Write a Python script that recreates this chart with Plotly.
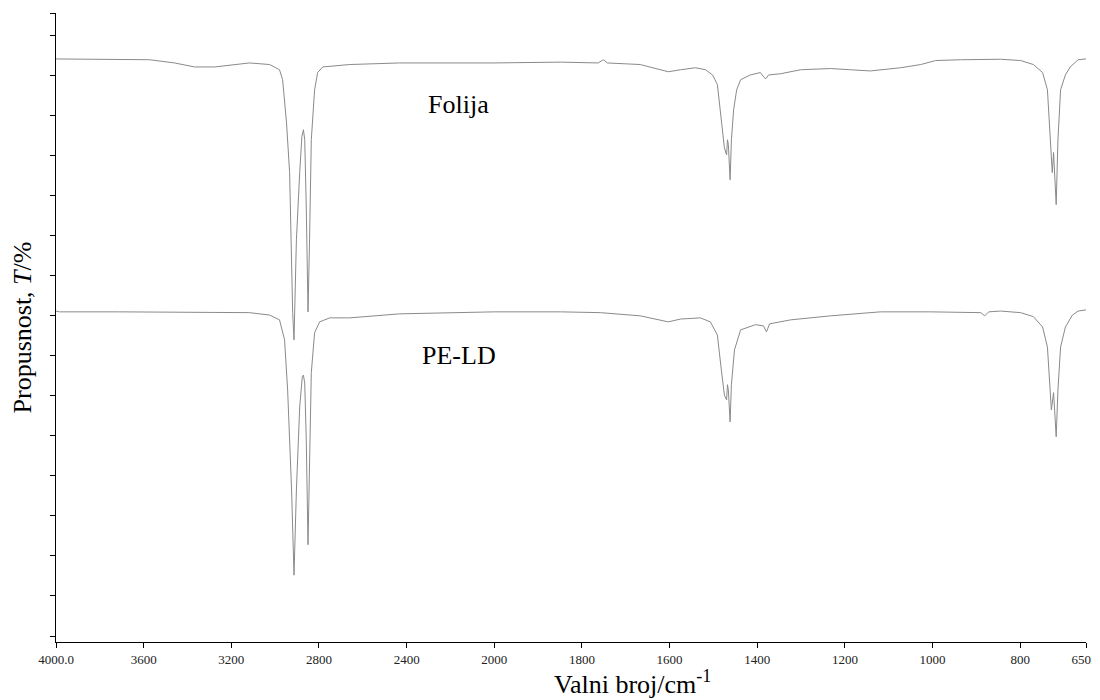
import plotly.graph_objects as go

# ---- data (wavenumber cm-1, transmittance in arbitrary %T units) ----
folija_wn = [4000, 3801, 3573, 3459, 3368, 3276, 3185, 3117, 3025, 2980, 2966, 2948, 2934, 2925, 2920,
             2914, 2903, 2888, 2878, 2871, 2865, 2858, 2850, 2843, 2835, 2820, 2806, 2783, 2660, 2432,
             2203, 2000, 1849, 1763, 1751, 1742, 1667, 1621, 1603, 1575, 1541, 1518, 1502, 1491, 1482,
             1475, 1470, 1468, 1466, 1462, 1459, 1454, 1447, 1438, 1416, 1393, 1386, 1381, 1374, 1347,
             1301, 1233, 1187, 1142, 1073, 1027, 993, 936, 845, 799, 770, 749, 738, 733, 730,
             727, 724, 718, 714, 708, 697, 686, 668, 650]
folija_t = [72.1, 72.06, 72.0, 71.6, 71.1, 71.1, 71.4, 71.6, 71.4, 70.75, 69.5, 64.1, 57.9, 45.4, 40.4,
            37.0, 49.5, 57.9, 62.4, 63.25, 62.0, 53.6, 40.5, 49.5, 62.0, 68.25, 70.4, 71.1, 71.4, 71.6,
            71.6, 71.6, 71.7, 71.6, 72.0, 71.6, 71.4, 70.75, 70.5, 70.75, 71.0, 70.75, 70.1, 68.9, 64.5,
            61.0, 60.1, 62.0, 61.4, 57.0, 62.0, 65.75, 68.25, 69.5, 70.1, 70.4, 69.9, 69.6, 70.1, 70.25,
            70.75, 70.9, 70.75, 70.6, 71.0, 71.4, 71.9, 72.0, 72.06, 71.9, 71.4, 70.4, 68.25, 64.1, 60.75,
            57.9, 60.4, 53.9, 62.0, 68.25, 70.1, 71.1, 72.0, 72.1]

pe_wn = [4000, 3984, 3710, 3345, 3117, 3025, 2980, 2957, 2943, 2925, 2919, 2914, 2903, 2888, 2876,
         2871, 2865, 2858, 2850, 2843, 2835, 2820, 2797, 2751, 2660, 2432, 2000, 1849, 1758, 1667,
         1603, 1575, 1530, 1507, 1491, 1482, 1475, 1470, 1468, 1466, 1462, 1459, 1452, 1438, 1404,
         1386, 1379, 1372, 1324, 1233, 1119, 1005, 890, 881, 872, 845, 799, 770, 749, 738,
         733, 729, 724, 718, 714, 708, 697, 681, 668, 650]
pe_t = [40.6, 40.5, 40.5, 40.4, 40.4, 40.1, 39.5, 37.0, 30.75, 18.25, 9.9, 7.6, 18.25, 28.6, 32.4,
        32.6, 31.6, 24.5, 11.4, 22.4, 32.9, 37.9, 39.25, 39.75, 39.75, 40.25, 40.5, 40.5, 40.4, 40.0,
        39.25, 39.6, 39.75, 39.25, 37.6, 33.25, 30.1, 29.5, 31.4, 30.75, 26.75, 31.4, 35.75, 38.25, 38.9,
        38.75, 38.0, 39.0, 39.5, 40.0, 40.5, 40.5, 40.4, 40.0, 40.5, 40.6, 40.4, 39.9, 38.6, 36.1,
        31.6, 28.25, 30.4, 24.9, 30.75, 36.1, 38.6, 40.1, 40.6, 40.75]

x_ticks = [4000, 3600, 3200, 2800, 2400, 2000, 1800, 1600, 1400, 1200, 1000, 800, 650]
x_tick_labels = ["4000.0", "3600", "3200", "2800", "2400", "2000", "1800", "1600",
                 "1400", "1200", "1000", "800", "650.0"]
y_ticks = [0, 5, 10, 15, 20, 25, 30, 35, 40, 45, 50, 55, 60, 65, 70, 75, 77.84]
labels = ["Folija", "PE-LD"]


# FTIR axis: region above 2000 cm-1 is drawn at half scale
def ax(w):
    return w if w <= 2000 else 2000 + (w - 2000) / 2.0


fig = go.Figure()
for wn, t, name in [(folija_wn, folija_t, labels[0]), (pe_wn, pe_t, labels[1])]:
    fig.add_trace(go.Scatter(x=[ax(w) for w in wn], y=t, mode="lines", name=name,
                             line=dict(color="#8a8a8a", width=1), showlegend=False))

serif = "Liberation Serif, Times New Roman, serif"
fig.update_layout(
    width=1100, height=700,
    margin=dict(l=48, r=22, t=5, b=66),
    paper_bgcolor="white", plot_bgcolor="white",
    font=dict(family=serif, color="black"),
    xaxis=dict(range=[ax(4000), ax(650)], tickmode="array",
               tickvals=[ax(v) for v in x_ticks], ticktext=x_tick_labels,
               ticks="outside", ticklen=5, tickwidth=1, tickcolor="black",
               showline=True, linecolor="black", linewidth=1, showgrid=False, zeroline=False,
               automargin=False, ticklabeloverflow="allow",
               tickfont=dict(family=serif, size=13, color="#222")),
    yaxis=dict(range=[-0.75, 77.84], tickmode="array", tickvals=y_ticks, showticklabels=False,
               ticks="outside", ticklen=5, tickwidth=1, tickcolor="black",
               showline=True, linecolor="black", linewidth=1, showgrid=False, zeroline=False,
               automargin=False,
               title=dict(text="Propusnost, <i>T</i>/%", font=dict(family=serif, size=26), standoff=12)),
)
fig.add_annotation(x=0.391, y=0.88, xref="paper", yref="paper", text=labels[0], showarrow=False,
                   font=dict(family=serif, size=26, color="black"))
fig.add_annotation(x=0.391, y=0.456, xref="paper", yref="paper", text=labels[1], showarrow=False,
                   font=dict(family=serif, size=26, color="black"))
fig.add_annotation(x=0.56, y=-0.0636, xref="paper", yref="paper", yanchor="middle",
                   text="Valni broj/cm<sup>-1</sup>", showarrow=False,
                   font=dict(family=serif, size=26, color="black"))
fig.write_html("out.html")
